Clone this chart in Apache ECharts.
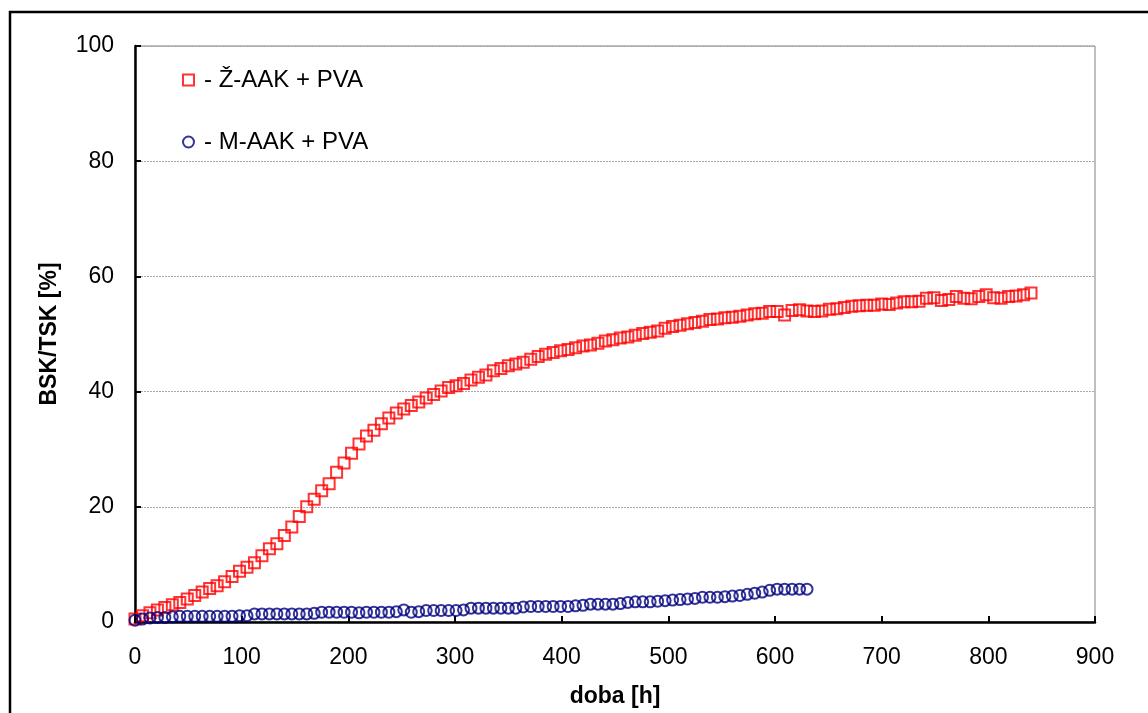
<!DOCTYPE html>
<html>
<head>
<meta charset="utf-8">
<script src="https://cdn.jsdelivr.net/npm/echarts@6/dist/echarts.min.js"></script>
<style>
html,body{margin:0;padding:0;background:#fff;}
#chart{width:1148px;height:713px;}
</style>
</head>
<body>
<div id="chart"></div>
<script>
const seriesNames = ['- Ž-AAK + PVA', '- M-AAK + PVA'];
const xTitle = 'doba [h]';
const yTitle = 'BSK/TSK [%]';

const redHours = [0,7,14,21,28,35,42,49,56,63,70,77,84,91,98,105,112,119,126,133,140,147,154,161,168,175,182,189,196,203,210,217,224,231,238,245,252,259,266,273,280,287,294,301,308,315,322,329,336,343,350,357,364,371,378,385,392,399,406,413,420,427,434,441,448,455,462,469,476,483,490,497,504,511,518,525,532,539,546,553,560,567,574,581,588,595,602,609,616,623,630,637,644,651,658,665,672,679,686,693,700,707,714,721,728,735,742,749,756,763,770,777,784,791,798,805,812,819,826,833,840];
const redValues = [0.5,1.1,1.6,2.1,2.5,3.0,3.4,4.0,4.6,5.2,5.8,6.3,7.0,7.9,8.8,9.5,10.3,11.5,12.7,13.6,15.0,16.5,18.3,20.0,21.3,22.8,24.0,26.0,27.6,29.3,30.9,32.3,33.3,34.4,35.4,36.3,37.0,37.6,38.2,38.9,39.5,40.1,40.7,41.0,41.4,42.0,42.5,42.9,43.6,44.0,44.5,44.8,45.1,45.6,46.1,46.5,46.8,47.1,47.3,47.6,47.9,48.1,48.4,48.8,49.0,49.3,49.5,49.8,50.1,50.3,50.5,51.0,51.3,51.5,51.8,52.0,52.2,52.5,52.6,52.8,52.9,53.1,53.3,53.5,53.6,53.9,53.9,53.3,54.1,54.2,54.0,53.9,54.0,54.3,54.4,54.6,54.8,54.9,55.0,55.0,55.2,55.1,55.4,55.6,55.6,55.7,56.2,56.3,55.8,56.0,56.5,56.2,56.1,56.5,56.8,56.3,56.2,56.5,56.6,56.8,57.1];

const blueHours = [0,7,14,21,28,35,42,49,56,63,70,77,84,91,98,105,112,119,126,133,140,147,154,161,168,175,182,189,196,203,210,217,224,231,238,245,252,259,266,273,280,287,294,301,308,315,322,329,336,343,350,357,364,371,378,385,392,399,406,413,420,427,434,441,448,455,462,469,476,483,490,497,504,511,518,525,532,539,546,553,560,567,574,581,588,595,602,609,616,623,630];
const blueValues = [0.3,0.5,0.7,0.8,0.8,0.9,1.0,1.0,1.0,1.0,1.0,1.0,1.0,1.0,1.1,1.1,1.4,1.4,1.4,1.4,1.4,1.4,1.4,1.4,1.5,1.7,1.7,1.7,1.7,1.7,1.6,1.7,1.7,1.7,1.7,1.8,2.1,1.7,1.8,2.0,2.0,2.0,2.0,2.0,2.1,2.4,2.4,2.4,2.4,2.4,2.4,2.4,2.6,2.7,2.7,2.7,2.7,2.7,2.7,2.8,2.9,3.1,3.1,3.1,3.1,3.2,3.4,3.5,3.5,3.5,3.6,3.7,3.8,3.9,4.0,4.1,4.3,4.3,4.3,4.4,4.5,4.6,4.8,5.0,5.2,5.5,5.7,5.7,5.7,5.7,5.7];

const FONT = '"Liberation Sans", Arial, sans-serif';
const chart = echarts.init(document.getElementById('chart'), null, {renderer: 'canvas'});

const redData = redHours.map((h, i) => [h, redValues[i]]);
const blueData = blueHours.map((h, i) => [h, blueValues[i]]);

chart.setOption({
  animation: false,
  backgroundColor: '#ffffff',
  textStyle: {fontFamily: FONT},
  graphic: [{
    type: 'rect', silent: true, z: -1,
    shape: {x: 10, y: 12, width: 1200, height: 800},
    style: {fill: 'none', stroke: '#000', lineWidth: 2.5}
  }],
  grid: {left: 135, top: 46, right: 53, bottom: 91, show: true, borderColor: '#808080', borderWidth: 1, backgroundColor: 'transparent'},
  legend: {
    orient: 'vertical', left: 177, top: 63, itemGap: 38,
    itemWidth: 11, itemHeight: 11,
    textStyle: {fontFamily: FONT, fontSize: 24, color: '#000', padding: [0, 0, 0, 5]},
    data: seriesNames
  },
  xAxis: {
    type: 'value', min: 0, max: 900, interval: 100,
    name: xTitle, nameLocation: 'middle', nameGap: 63,
    nameTextStyle: {fontFamily: FONT, fontSize: 23, fontWeight: 'bold', color: '#000'},
    axisLine: {show: true, onZero: false, lineStyle: {color: '#000', width: 2.5}},
    axisTick: {show: true, inside: true, length: 6, lineStyle: {color: '#000', width: 2}},
    axisLabel: {fontFamily: FONT, fontSize: 23, color: '#000', margin: 24},
    splitLine: {show: false}
  },
  yAxis: {
    type: 'value', min: 0, max: 100, interval: 20,
    name: yTitle, nameLocation: 'middle', nameGap: 74, nameRotate: 90,
    nameTextStyle: {fontFamily: FONT, fontSize: 23, fontWeight: 'bold', color: '#000'},
    axisLine: {show: true, onZero: false, lineStyle: {color: '#000', width: 2.5}},
    axisTick: {show: true, inside: true, length: 6, lineStyle: {color: '#000', width: 2}},
    axisLabel: {fontFamily: FONT, fontSize: 23, color: '#000', margin: 21},
    splitLine: {show: true, lineStyle: {color: '#a8a8a8', width: 1, type: [2, 1]}}
  },
  series: [{
    name: seriesNames[0], type: 'scatter', data: redData,
    symbol: 'rect', symbolSize: 11,
    itemStyle: {color: 'rgba(0,0,0,0)', borderColor: '#ff0000', borderWidth: 2},
    z: 3
  }, {
    name: seriesNames[1], type: 'scatter', data: blueData,
    symbol: 'circle', symbolSize: 11,
    itemStyle: {color: 'rgba(0,0,0,0)', borderColor: '#000080', borderWidth: 2},
    z: 4
  }]
});
</script>
</body>
</html>
